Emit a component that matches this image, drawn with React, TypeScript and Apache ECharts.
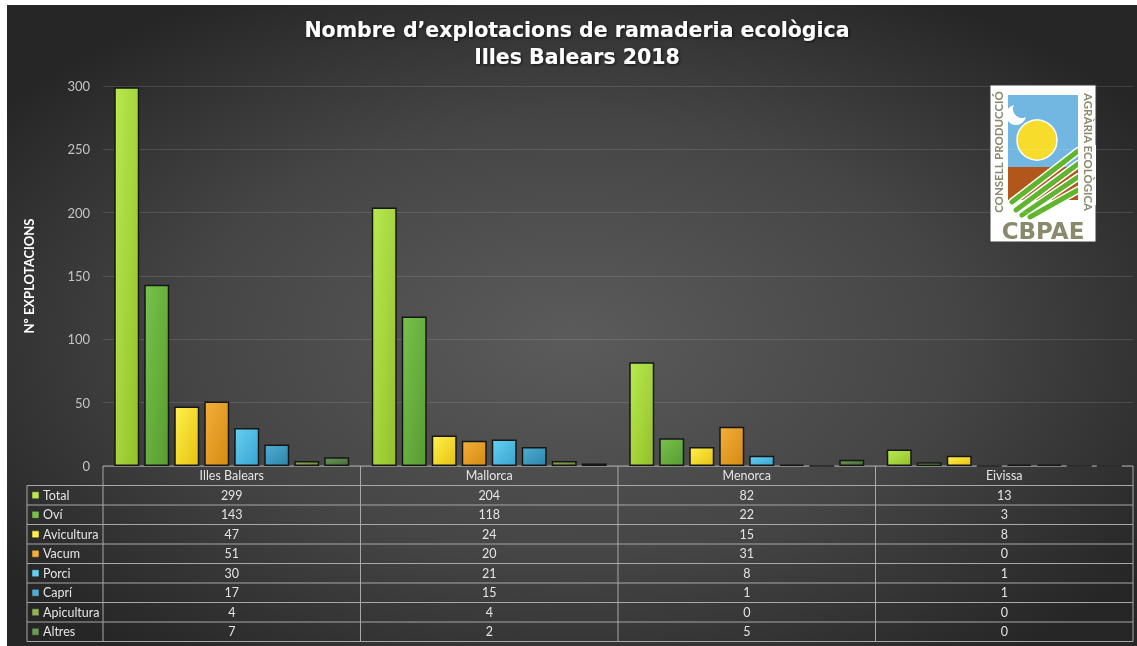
import React, { useEffect, useRef } from 'react';
import * as echarts from 'echarts';

const categories = ['Illes Balears', 'Mallorca', 'Menorca', 'Eivissa'];
const seriesNames = ['Total', 'Oví', 'Avicultura', 'Vacum', 'Porci', 'Caprí', 'Apicultura', 'Altres'];
const totalValues = [299, 204, 82, 13];
const oviValues = [143, 118, 22, 3];
const aviculturaValues = [47, 24, 15, 8];
const vacumValues = [51, 20, 31, 0];
const porciValues = [30, 21, 8, 1];
const capriValues = [17, 15, 1, 1];
const apiculturaValues = [4, 4, 0, 0];
const altresValues = [7, 2, 5, 0];
const seriesValues = [totalValues, oviValues, aviculturaValues, vacumValues, porciValues, capriValues, apiculturaValues, altresValues];
const yMin = 0;
const yMax = 300;
const yInterval = 50;
const titleText = 'Nombre d\u2019explotacions de ramaderia ecològica\nIlles Balears 2018';
const yAxisName = 'Nº EXPLOTACIONS';

const seriesColors: [string, string][] = [
  ['#b8ea50', '#94c02a'],
  ['#78c24c', '#579c30'],
  ['#fff14c', '#e6c210'],
  ['#f3ae3c', '#d48c10'],
  ['#66cff2', '#38a4d0'],
  ['#50acd2', '#2c86ac'],
  ['#92b054', '#6a8834'],
  ['#6c9858', '#436c36'],
];

export default function App() {
  const ref = useRef<HTMLDivElement>(null);
  useEffect(() => {
    const chart = echarts.init(ref.current!, null, { renderer: 'svg' });
    const W = 1130;
    const H = 641;
    const gridLeft = 96;
    const gridRight = 4;
    const gridTop = 81;
    const gridBottom = 180;
    const plotW = W - gridLeft - gridRight;
    const colW = plotW / categories.length;
    const tableTop = H - gridBottom;
    const rowH = 19.5;
    const legendLeft = 20;
    const lineColor = '#a8a8a8';
    const textColor = '#e4e4e4';
    const font = 'Lato, "Noto Sans", sans-serif';

    const txt = (x: number, y: number, text: string, extra: any = {}) => ({
      type: 'text',
      x,
      y,
      silent: true,
      style: {
        text,
        fill: textColor,
        fontSize: 12.5,
        fontFamily: font,
        align: 'center',
        textAlign: 'center',
        verticalAlign: 'middle',
        textVerticalAlign: 'middle',
        ...extra,
      },
    });

    const graphics: any[] = [];
    graphics.push({
      type: 'rect',
      z: -100,
      silent: true,
      shape: { x: 0, y: 0, width: W, height: H },
      style: {
        fill: {
          type: 'radial',
          x: 0.5,
          y: 0.52,
          r: 0.62,
          colorStops: [
            { offset: 0, color: '#5b5b5b' },
            { offset: 0.55, color: '#454545' },
            { offset: 1, color: '#262626' },
          ],
        },
      },
    });

    // table
    const tableBottom = tableTop + rowH * (seriesNames.length + 1);
    graphics.push({
      type: 'line', silent: true,
      shape: { x1: gridLeft, y1: tableTop, x2: W - gridRight, y2: tableTop },
      style: { stroke: lineColor, lineWidth: 1 },
    });
    for (let r = 1; r <= seriesNames.length + 1; r++) {
      const y = tableTop + r * rowH;
      graphics.push({
        type: 'line', silent: true,
        shape: { x1: legendLeft, y1: y, x2: W - gridRight, y2: y },
        style: { stroke: lineColor, lineWidth: 1 },
      });
    }
    graphics.push({
      type: 'line', silent: true,
      shape: { x1: legendLeft, y1: tableTop + rowH, x2: legendLeft, y2: tableBottom },
      style: { stroke: lineColor, lineWidth: 1 },
    });
    for (let c = 0; c <= categories.length; c++) {
      const x = gridLeft + c * colW;
      graphics.push({
        type: 'line', silent: true,
        shape: { x1: x, y1: tableTop, x2: x, y2: tableBottom },
        style: { stroke: lineColor, lineWidth: 1 },
      });
    }
    categories.forEach((cat, c) => {
      graphics.push(txt(gridLeft + (c + 0.5) * colW, tableTop + rowH / 2, cat));
    });
    seriesNames.forEach((name, s) => {
      const yc = tableTop + (s + 1.5) * rowH;
      graphics.push({
        type: 'rect', silent: true,
        shape: { x: legendLeft + 5, y: yc - 3.5, width: 7, height: 7 },
        style: { fill: seriesColors[s][0], stroke: '#222', lineWidth: 0.5 },
      });
      graphics.push(txt(legendLeft + 16, yc, name, { align: 'left', textAlign: 'left' }));
      seriesValues[s].forEach((v, c) => {
        graphics.push(txt(gridLeft + (c + 0.5) * colW, yc, String(v)));
      });
    });

    // logo
    const logoText = '#8a896c';
    graphics.push({
      type: 'rect', silent: true,
      shape: { x: 983, y: 80, width: 106, height: 157 },
      style: { fill: '#ffffff', stroke: '#3a3a3a', lineWidth: 1 },
    });
    graphics.push({
      type: 'rect', silent: true,
      shape: { x: 1001, y: 90, width: 70, height: 72 },
      style: { fill: '#72b6e2' },
    });
    graphics.push({
      type: 'rect', silent: true,
      shape: { x: 1001, y: 162, width: 70, height: 33 },
      style: { fill: '#b3561c' },
    });
    graphics.push({
      type: 'circle', silent: true,
      shape: { cx: 1009, cy: 110, r: 10 },
      style: { fill: '#ffffff' },
    });
    graphics.push({
      type: 'circle', silent: true,
      shape: { cx: 1015, cy: 104, r: 9 },
      style: { fill: '#72b6e2' },
    });
    graphics.push({
      type: 'circle', silent: true,
      shape: { cx: 1030, cy: 135, r: 20 },
      style: { fill: '#f7dc2c', stroke: '#ffffff', lineWidth: 1.5 },
    });
    const stripes = [
      [1005, 197, 1071, 146],
      [1009, 205, 1071, 159],
      [1015, 210, 1071, 172],
      [1023, 212, 1071, 185],
    ];
    stripes.forEach(([x1, y1, x2, y2]) => {
      graphics.push({
        type: 'line', silent: true,
        shape: { x1, y1, x2, y2 },
        style: { stroke: '#ffffff', lineWidth: 8, lineCap: 'round' },
      });
    });
    stripes.forEach(([x1, y1, x2, y2]) => {
      graphics.push({
        type: 'line', silent: true,
        shape: { x1, y1, x2, y2 },
        style: { stroke: '#5fb62e', lineWidth: 5, lineCap: 'round' },
      });
    });
    graphics.push({
      type: 'rect', silent: true,
      shape: { x: 1071, y: 140, width: 18, height: 60 },
      style: { fill: '#ffffff' },
    });
    graphics.push({
      ...txt(991, 147, 'CONSELL PRODUCCIÓ', { fill: logoText, fontWeight: 'bold', fontSize: 11.5 }),
      rotation: Math.PI / 2,
    });
    graphics.push({
      ...txt(1081, 147, 'AGRÀRIA ECOLÒGICA', { fill: logoText, fontWeight: 'bold', fontSize: 11.5 }),
      rotation: -Math.PI / 2,
    });
    graphics.push(txt(1036, 226, 'CBPAE', { fill: logoText, fontWeight: 'bold', fontSize: 23, fontFamily: '"DejaVu Sans", sans-serif' }));

    const series = seriesNames.map((name, s) => ({
      name,
      type: 'bar',
      data: seriesValues[s],
      barWidth: 25,
      barGap: '20%',
      itemStyle: {
        color: {
          type: 'linear', x: 0, y: 0, x2: 1, y2: 1,
          colorStops: [
            { offset: 0, color: seriesColors[s][0] },
            { offset: 1, color: seriesColors[s][1] },
          ],
        },
        borderColor: '#161616',
        borderWidth: 1.5,
      },
    }));

    chart.setOption({
      animation: false,
      title: {
        text: titleText,
        left: 565,
        textAlign: 'center',
        top: 6,
        textStyle: {
          color: '#ffffff',
          fontSize: 20.5,
          lineHeight: 27,
          fontWeight: 'bold',
          fontFamily: '"DejaVu Sans", sans-serif',
          textShadowColor: 'rgba(0,0,0,0.7)',
          textShadowBlur: 3,
          textShadowOffsetX: 1,
          textShadowOffsetY: 1,
        },
      },
      grid: { left: gridLeft, right: gridRight, top: gridTop, bottom: gridBottom, containLabel: false },
      xAxis: {
        type: 'category',
        data: categories,
        axisLine: { show: false },
        axisTick: { show: false },
        axisLabel: { show: false },
      },
      yAxis: {
        type: 'value',
        min: yMin,
        max: yMax,
        interval: yInterval,
        name: yAxisName,
        nameLocation: 'middle',
        nameRotate: 90,
        nameGap: 68,
        nameTextStyle: { color: '#ffffff', fontWeight: 'bold', fontSize: 13, fontFamily: font },
        axisLine: { show: false },
        axisTick: { show: false },
        axisLabel: { color: '#c4c4c4', fontSize: 13, margin: 13, fontFamily: font },
        splitLine: { lineStyle: { color: 'rgba(255,255,255,0.12)', width: 1 } },
      },
      series,
      graphic: { elements: graphics },
    });
    return () => chart.dispose();
  }, []);
  return <div ref={ref} style={{ position: 'fixed', left: 7, top: 5, width: 1130, height: 641 }} />;
}
